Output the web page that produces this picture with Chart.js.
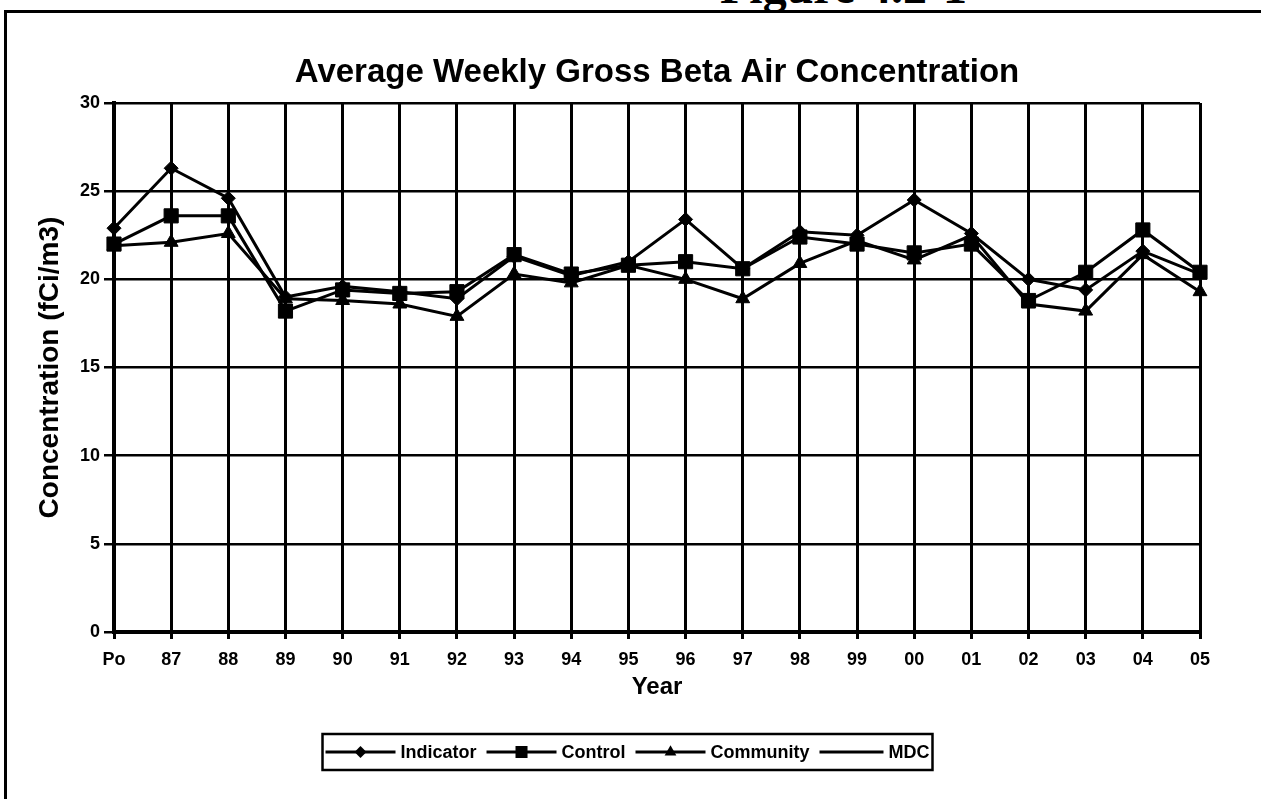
<!DOCTYPE html>
<html>
<head>
<meta charset="utf-8">
<script src="https://cdn.jsdelivr.net/npm/chart.js@4.4.0/dist/chart.umd.min.js"></script>
<style>
html, body { margin: 0; padding: 0; background: #fff; }
#wrap { position: relative; width: 1261px; height: 799px; overflow: hidden; background: #fff; }
#frame { position: absolute; left: 4px; top: 10px; width: 1300px; height: 900px; border-left: 3px solid #000; border-top: 3px solid #000; }
#fig { position: absolute; left: 720px; top: -41px; font: bold 48px "Liberation Serif", serif; color: #000; }
canvas { position: absolute; left: 0; top: 0; }
</style>
</head>
<body>
<div id="wrap">
  <div id="fig">Figure 4.2-1</div>
  <div id="frame"></div>
  <canvas id="chart" width="1261" height="799"></canvas>
</div>
<script>
// Werte
const years = ['Po', '87', '88', '89', '90', '91', '92', '93', '94', '95', '96', '97', '98', '99', '00', '01', '02', '03', '04', '05'];
const indicator = [22.9, 26.3, 24.6, 19.0, 19.6, 19.3, 18.9, 21.3, 20.2, 21.0, 23.4, 20.6, 22.7, 22.5, 24.5, 22.6, 20.0, 19.4, 21.6, 20.3];
const control   = [22.0, 23.6, 23.6, 18.2, 19.4, 19.2, 19.3, 21.4, 20.3, 20.8, 21.0, 20.6, 22.4, 22.0, 21.5, 22.0, 18.8, 20.4, 22.8, 20.4];
const community = [21.9, 22.1, 22.6, 18.9, 18.8, 18.6, 17.9, 20.3, 19.8, 20.8, 20.0, 18.9, 20.9, 22.2, 21.1, 22.5, 18.6, 18.2, 21.4, 19.3];
const mdc = [];
const yMin = 0, yMax = 30, yStep = 5;
const chartTitle = 'Average Weekly Gross Beta Air Concentration';

const FONT = 'Arial, "Liberation Sans", sans-serif';
Chart.defaults.font.family = FONT;
Chart.defaults.color = '#000';

// Marker fuer die Legende zeichnen
function marker(ctx, style, r, x, y) {
    ctx.beginPath();
    if (style === 'rectRot') {
        ctx.moveTo(x - r, y); ctx.lineTo(x, y - r); ctx.lineTo(x + r, y); ctx.lineTo(x, y + r);
    } else if (style === 'rect') {
        const s = r * Math.SQRT1_2;
        ctx.rect(x - s, y - s, 2 * s, 2 * s);
    } else if (style === 'triangle') {
        ctx.moveTo(x, y - r);
        ctx.lineTo(x + r * 0.866, y + r * 0.5);
        ctx.lineTo(x - r * 0.866, y + r * 0.5);
    }
    ctx.closePath();
    ctx.fill();
}

// Titel ueber der Plotflaeche zentriert
const titleText = {
    id: 'titleText',
    afterDraw(chart) {
        const ctx = chart.ctx;
        const a = chart.chartArea;
        ctx.save();
        ctx.font = 'bold 33px ' + FONT;
        ctx.fillStyle = '#000';
        ctx.textAlign = 'center';
        ctx.textBaseline = 'alphabetic';
        ctx.fillText(chartTitle, (a.left + a.right) / 2, a.top - 21);
        ctx.restore();
    }
};

// Legende im Kasten unter dem Diagramm
const legendBox = {
    id: 'legendBox',
    afterDraw(chart) {
        const ctx = chart.ctx;
        const cy = 752;
        ctx.save();
        ctx.font = 'bold 18px ' + FONT;
        const items = chart.data.datasets.map(ds => ({
            ds: ds,
            seg: ds.pointRadius ? 70 : 64,
            tw: ctx.measureText(ds.label).width
        }));
        const gapText = 5, gapItem = 10, pad = 3;
        let total = pad * 2 + gapItem * (items.length - 1);
        items.forEach(it => { total += it.seg + gapText + it.tw; });
        const left = chart.width / 2 - 3 - total / 2;
        ctx.strokeStyle = '#000';
        ctx.lineWidth = 2.5;
        ctx.strokeRect(left, cy - 18, total, 36);
        let x = left + pad;
        ctx.fillStyle = '#000';
        ctx.textBaseline = 'middle';
        items.forEach(it => {
            ctx.lineWidth = 3;
            ctx.beginPath();
            ctx.moveTo(x, cy);
            ctx.lineTo(x + it.seg, cy);
            ctx.stroke();
            if (it.ds.pointRadius) {
                marker(ctx, it.ds.pointStyle, it.ds.pointRadius * 0.85, x + it.seg / 2, cy);
            }
            ctx.fillText(it.ds.label, x + it.seg + gapText, cy + 1);
            x += it.seg + gapText + it.tw + gapItem;
        });
        ctx.restore();
    }
};

const base = {
    borderColor: '#000',
    backgroundColor: '#000',
    borderWidth: 3,
    pointBackgroundColor: '#000',
    pointBorderColor: '#000',
    pointBorderWidth: 1,
    tension: 0,
    fill: false,
    clip: false
};

const ctx = document.getElementById('chart').getContext('2d');
new Chart(ctx, {
    type: 'line',
    data: {
        labels: years,
        datasets: [
            Object.assign({}, base, { label: 'Indicator', data: indicator, pointStyle: 'rectRot', pointRadius: 7 }),
            Object.assign({}, base, { label: 'Control', data: control, pointStyle: 'rect', pointRadius: 10 }),
            Object.assign({}, base, { label: 'Community', data: community, pointStyle: 'triangle', pointRadius: 8 }),
            Object.assign({}, base, { label: 'MDC', data: mdc, pointRadius: 0 })
        ]
    },
    options: {
        responsive: false,
        animation: false,
        layout: { padding: { left: 0, right: 61, top: 103, bottom: 77 } },
        plugins: {
            legend: { display: false },
            tooltip: { enabled: false },
            title: { display: false }
        },
        scales: {
            x: {
                offset: false,
                grid: { color: '#000', lineWidth: 3, tickLength: 7 },
                border: { color: '#000', width: 4 },
                ticks: { font: { size: 18, weight: 'bold' }, padding: 10, maxRotation: 0, autoSkip: false },
                title: { display: true, text: 'Year', font: { size: 24, weight: 'bold' }, padding: { top: 0, bottom: 20 } },
                afterFit(s) { s.height = 90; }
            },
            y: {
                min: yMin,
                max: yMax,
                ticks: { stepSize: yStep, font: { size: 18, weight: 'bold' }, padding: 4 },
                grid: { color: '#000', lineWidth: 2.5, tickLength: 10 },
                border: { color: '#000', width: 4 },
                title: { display: true, text: 'Concentration (fCi/m3)', font: { size: 28, weight: 'bold' }, padding: { top: 33, bottom: 0 } },
                afterFit(s) { s.width = 114; }
            }
        }
    },
    plugins: [titleText, legendBox]
});
</script>
</body>
</html>
